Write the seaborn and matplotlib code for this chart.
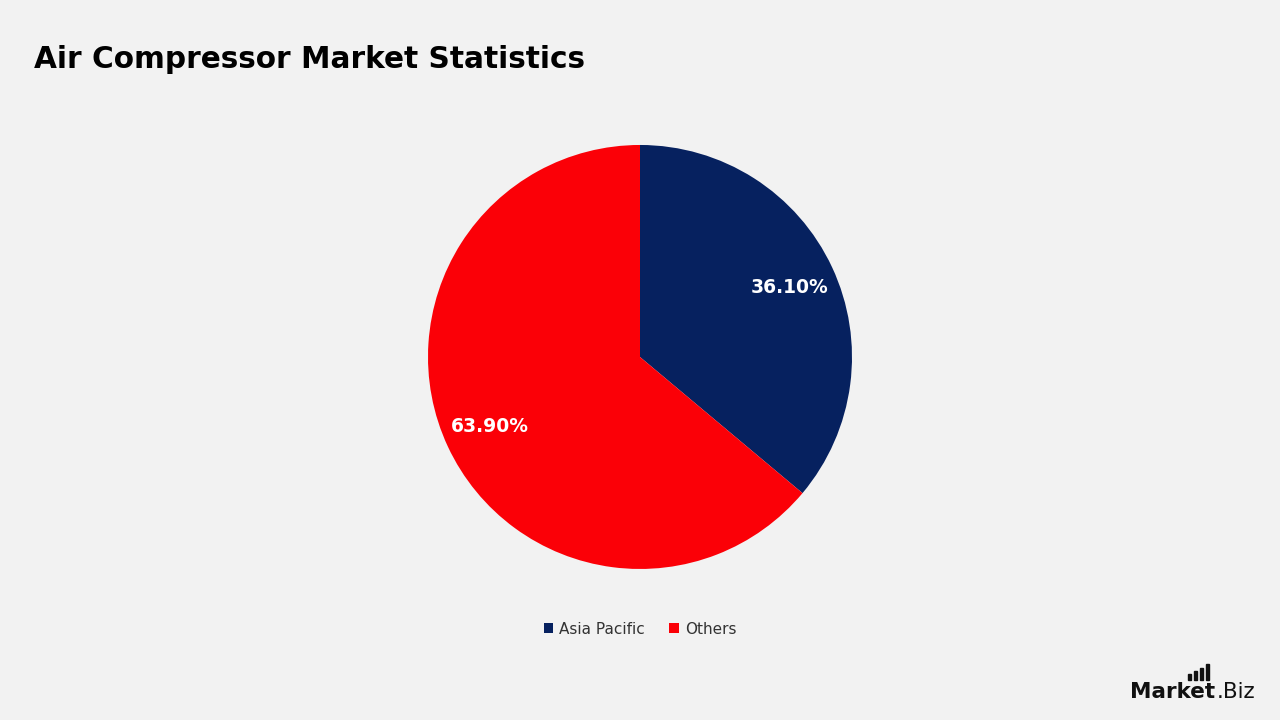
import matplotlib
matplotlib.use('Agg')
import matplotlib.pyplot as plt
from matplotlib.patches import Rectangle
import seaborn as sns

regions = ['Asia Pacific', 'Others']
shares = [36.10, 63.90]
colors = ['#06215F', '#FB0007']
title = 'Air Compressor Market Statistics'

sns.set_theme(style='white')
plt.rcParams['font.family'] = ['DejaVu Sans']

fig = plt.figure(figsize=(12.8, 7.2), dpi=100, facecolor='#F2F2F2')
ax = fig.add_axes([0.5 - 0.165625, 0.5042 - 0.29444, 0.33125, 0.58889])
ax.set_facecolor('#F2F2F2')

wedges, texts, autotexts = ax.pie(
    shares, colors=colors, startangle=90, counterclock=False,
    autopct=lambda p: f'{p:.2f}%', pctdistance=0.78,
    textprops=dict(color='white', fontsize=13.5, fontweight='bold'),
    wedgeprops=dict(linewidth=0))
ax.set_xlim(-1, 1)
ax.set_ylim(-1, 1)
ax.set_aspect('equal')

fig.legend(wedges, regions, loc='center', bbox_to_anchor=(0.5, 1 - 629 / 720),
           ncol=2, frameon=False, fontsize=11, handlelength=0.6, handleheight=0.6,
           handletextpad=0.4, columnspacing=1.6, labelcolor='#333333')

fig.text(34 / 1280, 1 - 59 / 720, title, fontsize=21.3, fontweight='bold',
         color='black', va='center', ha='left')

# logo
fig.text(1130 / 1280, 1 - 692 / 720, 'Market', fontsize=15.5, fontweight='bold',
         color='#111111', va='center', ha='left')
fig.text(1217 / 1280, 1 - 692 / 720, '.Biz', fontsize=15.5,
         color='#111111', va='center', ha='left')
for i, h in enumerate([6, 9, 12, 16]):
    x0 = 1188 + i * 6
    fig.patches.append(Rectangle((x0 / 1280, 1 - 680 / 720), 3 / 1280, h / 720,
                                 transform=fig.transFigure, color='#111111'))

fig.savefig('out.png', dpi=100, facecolor=fig.get_facecolor())
